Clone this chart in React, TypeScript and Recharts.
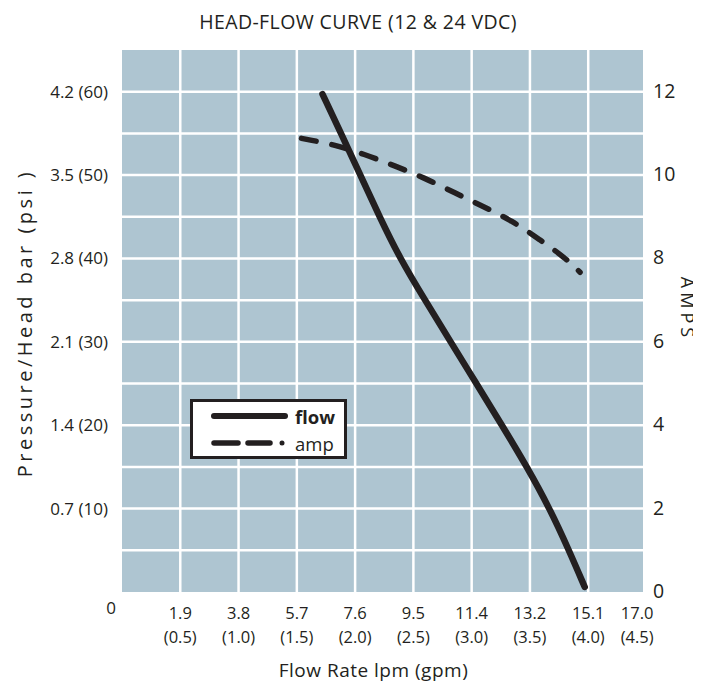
import React from 'react';
import { LineChart, Line, XAxis, YAxis, ReferenceLine, CartesianGrid } from 'recharts';

// flow curve: gpm vs psi
const flowGpm = [1.72, 1.88, 2.045, 2.21, 2.385, 2.6, 2.82, 3.04, 3.26, 3.475, 3.67, 3.835, 3.97];
const flowPsi = [59.7, 55, 50, 45, 40, 35, 30, 25, 20, 15, 10, 5, 0.6];

// amp curve: gpm vs amps
const ampGpm = [1.54, 1.81, 2.08, 2.34, 2.59, 2.85, 3.09, 3.35, 3.58, 3.81, 3.93];
const ampVals = [10.88, 10.74, 10.5, 10.22, 9.94, 9.58, 9.26, 8.9, 8.46, 8.0, 7.67];

// axis ticks
const xTicks = [0, 0.5, 1.0, 1.5, 2.0, 2.5, 3.0, 3.5, 4.0, 4.42];
const xLpm = ['0', '1.9', '3.8', '5.7', '7.6', '9.5', '11.4', '13.2', '15.1', '17.0'];
const xGpm = ['', '(0.5)', '(1.0)', '(1.5)', '(2.0)', '(2.5)', '(3.0)', '(3.5)', '(4.0)', '(4.5)'];
const psiTicks = [10, 20, 30, 40, 50, 60];
const barLabels = ['0.7', '1.4', '2.1', '2.8', '3.5', '4.2'];
const ampTicks = [0, 2, 4, 6, 8, 10, 12];

// grid
const gridX = [0.5, 1.0, 1.5, 2.0, 2.5, 3.0, 3.5, 4.0];
const gridY = [5, 10, 15, 20, 25, 30, 35, 40, 45, 50, 55, 60];

const flowData = flowGpm.map((g, i) => ({ gpm: g, psi: flowPsi[i] }));
const ampData = ampGpm.map((g, i) => ({ gpm: g, amp: ampVals[i] }));

const FONT = '"Open Sans", "Noto Sans", sans-serif';
const INK = '#231f20';

const XTick = (props: any) => {
  const { x, y, payload, index } = props;
  const i = xTicks.indexOf(payload.value);
  const idx = i >= 0 ? i : index;
  if (payload.value === 0) {
    return (
      <text x={x - 11} y={y + 14} textAnchor="middle" fontSize={17} fill={INK} fontFamily={FONT}>0</text>
    );
  }
  return (
    <g>
      <text x={x} y={y + 19} textAnchor="middle" fontSize={16.5} fill={INK} fontFamily={FONT}>{xLpm[idx]}</text>
      <text x={x} y={y + 43} textAnchor="middle" fontSize={16.5} fill={INK} fontFamily={FONT}>{xGpm[idx]}</text>
    </g>
  );
};

const PsiTick = (props: any) => {
  const { x, y, payload } = props;
  const i = psiTicks.indexOf(payload.value);
  return (
    <text x={x} y={y} dy={6} textAnchor="end" fontSize={17} fill={INK} fontFamily={FONT}>
      {barLabels[i]} ({payload.value})
    </text>
  );
};

const AmpTick = (props: any) => {
  const { x, y, payload } = props;
  return (
    <text x={x} y={y} dy={6} textAnchor="start" fontSize={19.5} fill={INK} fontFamily={FONT}>
      {payload.value}
    </text>
  );
};

export default function App() {
  return (
    <div style={{ position: 'relative', width: 693, height: 674, fontFamily: FONT, color: INK }}>
      <div style={{ position: 'absolute', left: 150, top: 3, width: 400, textAlign: 'center', fontSize: 19.5, letterSpacing: 0.4, lineHeight: '22px' }}>
        HEAD-FLOW CURVE (12 &amp; 24 VDC)
      </div>
      <LineChart width={693} height={674} margin={{ top: 42, right: 0, left: 0, bottom: 8 }}>
        <CartesianGrid fill="#aec5d1" horizontal={false} vertical={false} yAxisId="psi" />
        <XAxis
          dataKey="gpm"
          type="number"
          domain={[0, 4.47]}
          ticks={xTicks}
          interval={0}
          axisLine={false}
          tickLine={false}
          height={82}
          tick={<XTick />}
          label={{
            content: (p: any) => (
              <text x={p.viewBox.x + p.viewBox.width / 2 - 9} y={p.viewBox.y + 85} textAnchor="middle" fontSize={19} letterSpacing={0.5} fill={INK} fontFamily={FONT}>
                Flow Rate lpm (gpm)
              </text>
            ),
          }}
        />
        <YAxis
          yAxisId="psi"
          orientation="left"
          domain={[0, 65]}
          ticks={psiTicks}
          interval={0}
          width={114}
          axisLine={false}
          tickLine={false}
          tickMargin={8}
          tick={<PsiTick />}
          label={{
            content: (p: any) => {
              const cx = p.viewBox.x + 16;
              const cy = p.viewBox.y + p.viewBox.height / 2 + 2;
              return (
                <text x={cx} y={cy} transform={`rotate(-90 ${cx} ${cy})`} textAnchor="middle" dominantBaseline="central" fontSize={20} letterSpacing={3.5} fill={INK} fontFamily={FONT}>
                  Pressure/Head bar (psi )
                </text>
              );
            },
          }}
        />
        <YAxis
          yAxisId="amp"
          orientation="right"
          domain={[0, 13]}
          ticks={ampTicks}
          interval={0}
          width={58}
          axisLine={false}
          tickLine={false}
          tickMargin={4}
          tick={<AmpTick />}
          label={{
            content: (p: any) => {
              const cx = p.viewBox.x + 45;
              const cy = p.viewBox.y + p.viewBox.height / 2 - 12;
              return (
                <text x={cx} y={cy} transform={`rotate(90 ${cx} ${cy})`} textAnchor="middle" dominantBaseline="central" fontSize={18} letterSpacing={4} fill={INK} fontFamily={FONT}>
                  AMPS
                </text>
              );
            },
          }}
        />
        {gridX.map((v) => (
          <ReferenceLine key={'gx' + v} x={v} yAxisId="psi" stroke="#ffffff" strokeWidth={2.5} />
        ))}
        {gridY.map((v) => (
          <ReferenceLine key={'gy' + v} y={v} yAxisId="psi" stroke="#ffffff" strokeWidth={2.5} />
        ))}
        <Line
          data={ampData}
          dataKey="amp"
          yAxisId="amp"
          type="basis"
          stroke={INK}
          strokeWidth={5.5}
          strokeDasharray="15 16"
          strokeLinecap="round"
          dot={false}
          activeDot={false}
          isAnimationActive={false}
        />
        <Line
          data={flowData}
          dataKey="psi"
          yAxisId="psi"
          type="basis"
          stroke={INK}
          strokeWidth={6.5}
          strokeLinecap="round"
          dot={false}
          activeDot={false}
          isAnimationActive={false}
        />
      </LineChart>
      <div
        style={{
          position: 'absolute',
          left: 182,
          top: 391,
          width: 151,
          height: 54,
          border: `3px solid ${INK}`,
          background: '#ffffff',
        }}
      >
        <svg width={151} height={54} style={{ position: 'absolute', left: 0, top: 0 }}>
          <line x1={21} y1={14} x2={92} y2={14} stroke={INK} strokeWidth={6} strokeLinecap="round" />
          <line x1={21} y1={41} x2={45} y2={41} stroke={INK} strokeWidth={5.5} strokeLinecap="round" />
          <line x1={55} y1={41} x2={77} y2={41} stroke={INK} strokeWidth={5.5} strokeLinecap="round" />
          <circle cx={89} cy={41} r={2.5} fill={INK} />
          <text x={102} y={14} dominantBaseline="central" fontSize={18.5} fontWeight="bold" fill={INK} fontFamily={FONT}>flow</text>
          <text x={102} y={41} dominantBaseline="central" fontSize={18.5} fill={INK} fontFamily={FONT}>amp</text>
        </svg>
      </div>
    </div>
  );
}
